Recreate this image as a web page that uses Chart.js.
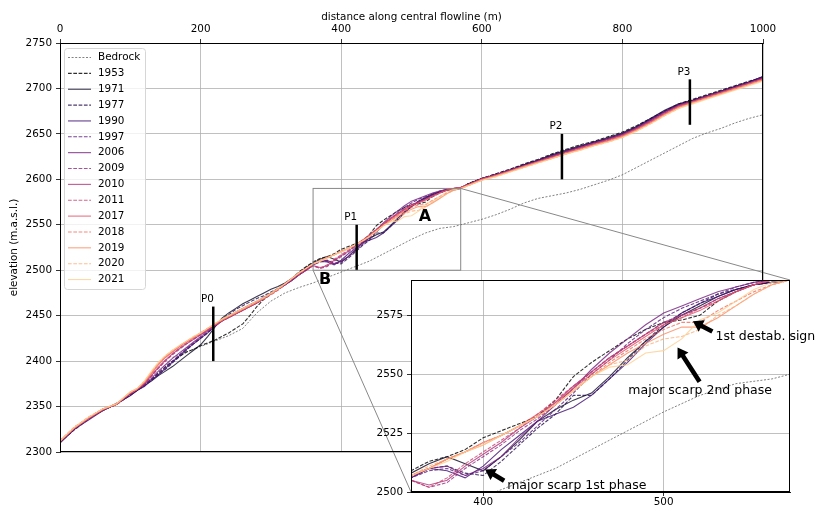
<!DOCTYPE html>
<html>
<head>
<meta charset="utf-8">
<script src="https://cdn.jsdelivr.net/npm/chart.js@4.4.0/dist/chart.umd.min.js"></script>
<style>
  body { margin: 0; background: #fff; }
  #wrap { position: relative; width: 815px; height: 506px; overflow: hidden; }
  #main { position: absolute; left: 0; top: 0; }
  #inset { position: absolute; left: 360px; top: 268px; }
</style>
</head>
<body>
<div id="wrap">
  <canvas id="main" width="815" height="506"></canvas>
  <canvas id="inset" width="455" height="238"></canvas>
</div>
<script>
// distance along the flowline (m), shared by all surveyed profiles
const dist = [0,20,40,60,80,100,
  110,120,130,140,150,160,170,180,190,200,210,220,230,240,250,260,270,280,290,300,310,320,330,340,350,
  360,370,380,390,400,410,420,430,440,450,460,470,480,490,500,510,520,530,540,550,560,570,
  580,600,620,640,660,680,700,720,740,760,780,800,820,840,860,880,900,920,940,960,980,1000];

const years = ['1953','1971','1977','1990','1997','2006','2009','2010','2011','2017','2018','2019','2020','2021'];

// surface elevation (m a.s.l.) per year
const e1953 = [2311,2325,2336,2346,2353,2363, 2369,2374,2380,2387,2394,2400,2405,2410,2413,2417,2420,2423,2427,2431,2436,2441,2450,2460,2468,2474,2479,2485,2491,2498,2504, 2509,2513,2515,2518,2523,2526,2529,2532,2539,2549,2555,2560,2565,2569,2572,2573,2575,2581,2585,2588,2589,2590, 2595,2601,2606,2611,2617,2622,2628,2633,2638,2642,2647,2652,2659,2667,2675,2683,2688,2693,2698,2703,2708,2712];
const e1971 = [2310,2325,2337,2345,2353,2362, 2368,2373,2378,2384,2389,2394,2400,2406,2412,2418,2427,2437,2447,2453,2458,2463,2467,2471,2475,2479,2482,2486,2491,2497,2503, 2508,2512,2515,2512,2509,2515,2522,2530,2535,2539,2542,2549,2557,2564,2570,2575,2579,2583,2586,2588,2589,2590, 2595,2601,2605,2610,2616,2621,2627,2632,2637,2641,2646,2651,2658,2667,2676,2683,2687,2692,2697,2702,2707,2713];
const e1977 = [2311,2324,2336,2346,2352,2363, 2368,2373,2379,2385,2391,2398,2405,2412,2419,2425,2431,2438,2446,2451,2457,2461,2465,2469,2472,2476,2480,2485,2490,2496,2501, 2507,2510,2511,2508,2507,2513,2520,2527,2533,2541,2541,2548,2556,2564,2571,2576,2580,2584,2586,2588,2589,2590, 2595,2601,2606,2611,2616,2621,2627,2632,2636,2641,2645,2650,2658,2666,2675,2682,2687,2692,2697,2702,2707,2712];
const e1990 = [2310,2325,2335,2345,2353,2362, 2368,2372,2379,2385,2392,2399,2406,2413,2419,2425,2431,2438,2444,2449,2454,2458,2462,2466,2470,2475,2479,2484,2489,2495,2500, 2506,2510,2509,2506,2511,2518,2524,2530,2533,2536,2541,2548,2555,2563,2570,2576,2580,2583,2586,2588,2589,2590, 2594,2601,2605,2610,2616,2621,2626,2631,2636,2641,2645,2650,2657,2666,2675,2682,2687,2692,2697,2702,2707,2713];
const e1997 = [2311,2326,2336,2346,2352,2363, 2369,2373,2380,2386,2393,2400,2407,2414,2420,2426,2432,2438,2444,2449,2453,2457,2461,2465,2470,2474,2479,2484,2489,2495,2500, 2506,2509,2510,2507,2509,2515,2521,2528,2535,2542,2550,2556,2563,2569,2574,2578,2581,2584,2587,2589,2590,2591, 2594,2600,2605,2610,2615,2621,2626,2631,2636,2640,2645,2650,2657,2665,2674,2682,2686,2691,2696,2701,2706,2712];
const e2006 = [2311,2325,2337,2346,2353,2364, 2369,2374,2381,2389,2396,2403,2409,2415,2421,2427,2433,2439,2444,2448,2452,2456,2460,2464,2469,2474,2479,2484,2489,2495,2500, 2506,2510,2511,2507,2510,2515,2523,2530,2537,2544,2552,2559,2565,2571,2576,2579,2582,2585,2587,2589,2590,2591, 2594,2600,2605,2610,2615,2620,2625,2631,2635,2640,2644,2649,2656,2665,2674,2681,2686,2691,2696,2701,2706,2712];
const e2009 = [2312,2326,2337,2347,2352,2364, 2369,2375,2383,2392,2400,2407,2413,2419,2424,2429,2434,2439,2444,2448,2452,2456,2460,2464,2469,2474,2479,2484,2490,2496,2501, 2505,2502,2504,2510,2515,2520,2526,2531,2537,2544,2551,2557,2562,2567,2572,2575,2578,2582,2585,2588,2590,2591, 2594,2600,2605,2610,2615,2620,2625,2630,2635,2640,2644,2649,2656,2664,2673,2681,2686,2691,2696,2701,2706,2711];
const e2010 = [2311,2326,2336,2346,2353,2364, 2369,2375,2384,2393,2401,2408,2414,2419,2424,2429,2434,2439,2444,2448,2452,2456,2460,2464,2469,2474,2479,2484,2490,2496,2501, 2505,2503,2505,2511,2516,2521,2527,2532,2538,2545,2551,2557,2562,2567,2572,2575,2578,2582,2585,2588,2590,2591, 2594,2601,2605,2610,2615,2620,2625,2630,2635,2639,2644,2649,2656,2664,2673,2681,2686,2691,2696,2701,2706,2711];
const e2011 = [2312,2327,2337,2347,2352,2365, 2369,2376,2384,2393,2401,2408,2414,2420,2425,2430,2434,2439,2444,2448,2452,2456,2460,2464,2468,2473,2478,2484,2490,2495,2500, 2505,2502,2506,2512,2517,2522,2527,2533,2539,2545,2551,2557,2562,2567,2571,2574,2578,2581,2585,2588,2590,2591, 2594,2600,2604,2609,2614,2619,2624,2629,2634,2639,2643,2648,2655,2663,2672,2680,2685,2690,2695,2700,2705,2710];
const e2017 = [2312,2326,2337,2346,2353,2365, 2369,2376,2386,2396,2404,2410,2416,2421,2426,2430,2435,2440,2445,2449,2453,2457,2461,2465,2469,2474,2479,2485,2491,2497,2502, 2507,2510,2514,2517,2521,2524,2528,2533,2538,2544,2550,2556,2561,2566,2571,2574,2577,2581,2585,2588,2590,2591, 2594,2600,2604,2609,2614,2619,2624,2629,2634,2638,2643,2648,2655,2663,2672,2680,2685,2690,2695,2700,2705,2710];
const e2018 = [2312,2327,2338,2347,2353,2365, 2369,2377,2387,2397,2405,2411,2416,2421,2426,2431,2436,2440,2445,2449,2453,2457,2461,2465,2469,2474,2479,2485,2491,2497,2502, 2507,2510,2514,2517,2521,2524,2528,2532,2537,2543,2549,2555,2560,2565,2569,2572,2572,2577,2581,2585,2588,2590, 2593,2600,2604,2609,2614,2619,2624,2629,2633,2638,2642,2647,2654,2662,2671,2679,2685,2690,2695,2700,2705,2710];
const e2019 = [2312,2326,2337,2347,2352,2366, 2370,2377,2387,2397,2405,2411,2417,2422,2426,2431,2436,2441,2445,2449,2453,2457,2461,2465,2469,2474,2479,2485,2491,2497,2502, 2507,2510,2514,2517,2520,2524,2528,2532,2537,2543,2549,2554,2559,2563,2567,2570,2570,2574,2579,2584,2588,2590, 2593,2599,2604,2609,2614,2619,2623,2628,2633,2638,2642,2647,2654,2662,2671,2679,2684,2689,2694,2699,2704,2709];
const e2020 = [2313,2327,2338,2347,2353,2366, 2370,2378,2388,2398,2406,2412,2417,2422,2427,2431,2436,2441,2446,2450,2454,2458,2462,2466,2470,2474,2479,2485,2491,2497,2502, 2507,2511,2514,2517,2521,2524,2528,2532,2537,2543,2549,2554,2556,2562,2565,2566,2569,2575,2579,2584,2588,2590, 2593,2599,2603,2608,2613,2618,2623,2628,2632,2637,2641,2646,2653,2661,2670,2678,2684,2689,2694,2699,2704,2709];
const e2021 = [2312,2327,2338,2347,2353,2366, 2370,2378,2389,2399,2406,2412,2417,2422,2427,2431,2436,2441,2446,2450,2454,2458,2462,2466,2470,2475,2480,2485,2491,2497,2502, 2507,2510,2513,2517,2520,2524,2528,2532,2537,2543,2549,2553,2554,2559,2560,2565,2573,2576,2581,2586,2589,2590, 2593,2599,2603,2608,2613,2618,2623,2628,2632,2637,2641,2646,2653,2661,2670,2678,2683,2688,2693,2698,2703,2708];
const elevations = [e1953,e1971,e1977,e1990,e1997,e2006,e2009,e2010,e2011,e2017,e2018,e2019,e2020,e2021];

const bedrockDist = [160,180,200,220,240,260,280,300,320,340,360,380,400,420,440,460,480,500,520,540,560,580,600,620,640,660,680,700,720,740,760,780,800,820,840,860,880,900,920,940,960,980,1000];
const bedrockElev = [2404,2410,2416,2422,2428,2436,2453,2466,2475,2481,2486,2492,2498,2504,2510,2518,2526,2534,2541,2546,2548,2552,2556,2561,2567,2574,2579,2582,2585,2589,2594,2599,2605,2613,2621,2629,2637,2645,2651,2656,2662,2667,2671];

// profile markers P0..P3
const markerNames = ['P0','P1','P2','P3'];
const markerDist = [218,422,714,896];
const markerLow = [2400,2500,2600,2660];
const markerHigh = [2460,2550,2650,2710];

// magma colours, dashed / solid alternating
const colors = ['#000004','#0e0a26','#230e4c','#3e1071','#5a177c','#762180','#932b80','#b0357a','#cc4170','#e35266','#f56d5d','#fb8d66','#feae78','#fecf92'];
const dashed = [true,false,true,false,true,false,true,false,true,false,true,false,true,false];

const FONT = "'DejaVu Sans', sans-serif";
const FS = 10.4;
const zoomBox = { x0: 360, x1: 570, y0: 2500, y1: 2590 };

function profileSets() {
  const sets = [{
    label: 'Bedrock',
    data: bedrockDist.map((d, i) => ({ x: d, y: bedrockElev[i] })),
    borderColor: 'rgba(70,70,70,0.85)', borderWidth: 0.8, borderDash: [2, 1.6], order: 30
  }];
  years.forEach((yr, i) => {
    sets.push({
      label: yr,
      data: dist.map((d, k) => ({ x: d, y: elevations[i][k] })),
      borderColor: colors[i] + 'd0',
      borderWidth: 1.1,
      borderDash: dashed[i] ? [3.7, 1.6] : [],
      order: 20 - i
    });
  });
  return sets;
}

function axisFont() { return { family: FONT, size: FS }; }
const plain = v => String(v);

function drawArrow(ctx, x1, y1, x2, y2) {
  const dx = x2 - x1, dy = y2 - y1, L = Math.hypot(dx, dy);
  const ux = dx / L, uy = dy / L, nx = -uy, ny = ux;
  const hl = 10, hw = 6.5, sw = 2.3;
  const bx = x2 - ux * hl, by = y2 - uy * hl;
  ctx.beginPath();
  ctx.moveTo(x1 + nx * sw, y1 + ny * sw);
  ctx.lineTo(bx + nx * sw, by + ny * sw);
  ctx.lineTo(bx + nx * hw, by + ny * hw);
  ctx.lineTo(x2, y2);
  ctx.lineTo(bx - nx * hw, by - ny * hw);
  ctx.lineTo(bx - nx * sw, by - ny * sw);
  ctx.lineTo(x1 - nx * sw, y1 - ny * sw);
  ctx.closePath();
  ctx.fill();
}

// ---------- inset ----------
const insetNotes = [
  { text: 'major scarp 1st phase', tail: [411.6, 2504.8], head: [401.1, 2509.6], at: [413.3, 2502.6], align: 'left' },
  { text: 'major scarp 2nd phase', tail: [519.9, 2546.8], head: [507.7, 2561.3], at: [520.2, 2543.0], align: 'center' },
  { text: '1st destab. sign', tail: [527.0, 2568.1], head: [516.2, 2572.5], at: [528.7, 2566.0], align: 'left' }
];

const insetPlugin = {
  id: 'insetDeco',
  beforeDraw(chart) {
    const a = chart.chartArea, ctx = chart.ctx;
    ctx.save();
    ctx.fillStyle = '#fff';
    ctx.fillRect(a.left, a.top, a.right - a.left, a.bottom - a.top);
    ctx.restore();
  },
  afterDraw(chart) {
    const a = chart.chartArea, ctx = chart.ctx;
    const sx = chart.scales.x, sy = chart.scales.y;
    ctx.save();
    ctx.strokeStyle = '#000';
    ctx.lineWidth = 1;
    ctx.strokeRect(a.left + 0.5, a.top + 0.5, a.right - a.left - 1, a.bottom - a.top - 1);
    ctx.fillStyle = '#000';
    ctx.font = '12.5px ' + FONT;
    ctx.textBaseline = 'middle';
    insetNotes.forEach(n => {
      drawArrow(ctx, sx.getPixelForValue(n.tail[0]), sy.getPixelForValue(n.tail[1]),
                sx.getPixelForValue(n.head[0]), sy.getPixelForValue(n.head[1]));
      ctx.textAlign = n.align;
      ctx.fillText(n.text, sx.getPixelForValue(n.at[0]), sy.getPixelForValue(n.at[1]));
    });
    ctx.restore();
  }
};

const inset = new Chart(document.getElementById('inset'), {
  type: 'line',
  data: { datasets: profileSets() },
  options: {
    responsive: false, animation: false, events: [],
    layout: { padding: { left: 0, top: 12, right: 25, bottom: 0 } },
    elements: { point: { radius: 0 }, line: { tension: 0 } },
    plugins: { legend: { display: false }, tooltip: { enabled: false } },
    scales: {
      x: {
        type: 'linear', min: zoomBox.x0, max: zoomBox.x1,
        afterBuildTicks: s => { s.ticks = [400, 500].map(v => ({ value: v })); },
        afterFit: s => { s.height = 14; },
        ticks: { padding: 0, color: '#000', font: axisFont(), maxRotation: 0, callback: plain },
        grid: { color: '#b0b0b0', lineWidth: 0.8, tickColor: '#000', tickLength: 4 },
        border: { color: '#000' }
      },
      y: {
        type: 'linear', min: zoomBox.y0, max: zoomBox.y1,
        afterBuildTicks: s => { s.ticks = [2500, 2525, 2550, 2575].map(v => ({ value: v })); },
        afterFit: s => { s.width = 51; },
        ticks: { padding: 4, color: '#000', font: axisFont(), callback: plain },
        grid: { color: '#b0b0b0', lineWidth: 0.8, tickColor: '#000', tickLength: 4 },
        border: { color: '#000' }
      }
    }
  },
  plugins: [insetPlugin]
});

// ---------- main ----------
const mainPlugin = {
  id: 'mainDeco',
  afterDraw(chart) {
    const a = chart.chartArea, ctx = chart.ctx;
    const sx = chart.scales.x, sy = chart.scales.y;
    const px = v => sx.getPixelForValue(v), py = v => sy.getPixelForValue(v);
    ctx.save();

    // zoom rectangle and connectors to the inset
    const ia = inset.chartArea, ox = 360, oy = 268;
    ctx.strokeStyle = '#888';
    ctx.lineWidth = 1;
    ctx.strokeRect(px(zoomBox.x0), py(zoomBox.y1), px(zoomBox.x1) - px(zoomBox.x0), py(zoomBox.y0) - py(zoomBox.y1));
    ctx.beginPath();
    ctx.moveTo(px(zoomBox.x1), py(zoomBox.y1));
    ctx.lineTo(ox + ia.right, oy + ia.top);
    ctx.moveTo(px(zoomBox.x0), py(zoomBox.y0));
    ctx.lineTo(ox + ia.left, oy + ia.bottom);
    ctx.stroke();

    // frame
    ctx.strokeStyle = '#000';
    ctx.strokeRect(a.left + 0.5, a.top + 0.5, a.right - a.left - 1, a.bottom - a.top - 1);

    // profile labels
    ctx.fillStyle = '#000';
    ctx.font = FS + 'px ' + FONT;
    ctx.textAlign = 'right';
    ctx.textBaseline = 'bottom';
    markerNames.forEach((n, i) => ctx.fillText(n, px(markerDist[i]) + 0.5, py(markerHigh[i]) - 2));

    ctx.font = 'bold 16px ' + FONT;
    ctx.textAlign = 'center';
    ctx.textBaseline = 'middle';
    ctx.fillText('A', px(519), py(2559));
    ctx.fillText('B', px(377), py(2489));

    // legend
    const lx = 64.5, ly = 48.5, lw = 81, lh = 241, r = 3;
    ctx.beginPath();
    ctx.moveTo(lx + r, ly);
    ctx.arcTo(lx + lw, ly, lx + lw, ly + lh, r);
    ctx.arcTo(lx + lw, ly + lh, lx, ly + lh, r);
    ctx.arcTo(lx, ly + lh, lx, ly, r);
    ctx.arcTo(lx, ly, lx + lw, ly, r);
    ctx.closePath();
    ctx.fillStyle = 'rgba(255,255,255,0.8)';
    ctx.fill();
    ctx.strokeStyle = '#d6d6d6';
    ctx.stroke();
    const items = chart.data.datasets.filter(d => d.label);
    ctx.font = FS + 'px ' + FONT;
    ctx.textAlign = 'left';
    ctx.textBaseline = 'middle';
    items.forEach((d, k) => {
      const y = 57.5 + k * 15.86;
      ctx.strokeStyle = d.borderColor;
      ctx.lineWidth = d.borderWidth;
      ctx.setLineDash(d.borderDash || []);
      ctx.beginPath();
      ctx.moveTo(68, y);
      ctx.lineTo(91, y);
      ctx.stroke();
      ctx.setLineDash([]);
      ctx.fillStyle = '#000';
      ctx.fillText(d.label, 98, y);
    });
    ctx.restore();
  }
};

const mainSets = profileSets();
markerDist.forEach((d, i) => {
  mainSets.push({
    data: [{ x: d, y: markerLow[i] }, { x: d, y: markerHigh[i] }],
    borderColor: '#000', borderWidth: 2.5, order: 0
  });
});

new Chart(document.getElementById('main'), {
  type: 'line',
  data: { datasets: mainSets },
  options: {
    responsive: false, animation: false, events: [],
    layout: { padding: { left: 8, top: 11, right: 52, bottom: 54 } },
    elements: { point: { radius: 0 }, line: { tension: 0 } },
    plugins: { legend: { display: false }, tooltip: { enabled: false } },
    scales: {
      x: {
        type: 'linear', position: 'top', min: 0, max: 1000,
        afterFit: s => { s.height = 32; },
        ticks: { stepSize: 200, padding: 3, color: '#000', font: axisFont(), maxRotation: 0, callback: plain },
        grid: { color: '#b0b0b0', lineWidth: 0.8, tickColor: '#000', tickLength: 4 },
        border: { color: '#000' },
        title: { display: true, text: 'distance along central flowline (m)', color: '#000', font: axisFont(), padding: 0 }
      },
      y: {
        type: 'linear', min: 2300, max: 2750,
        afterFit: s => { s.width = 52; },
        ticks: { stepSize: 50, padding: 4, color: '#000', font: axisFont(), callback: plain },
        grid: { color: '#b0b0b0', lineWidth: 0.8, tickColor: '#000', tickLength: 4 },
        border: { color: '#000' },
        title: { display: true, text: 'elevation (m.a.s.l.)', color: '#000', font: axisFont(), padding: 0 }
      }
    }
  },
  plugins: [mainPlugin]
});
</script>
</body>
</html>
